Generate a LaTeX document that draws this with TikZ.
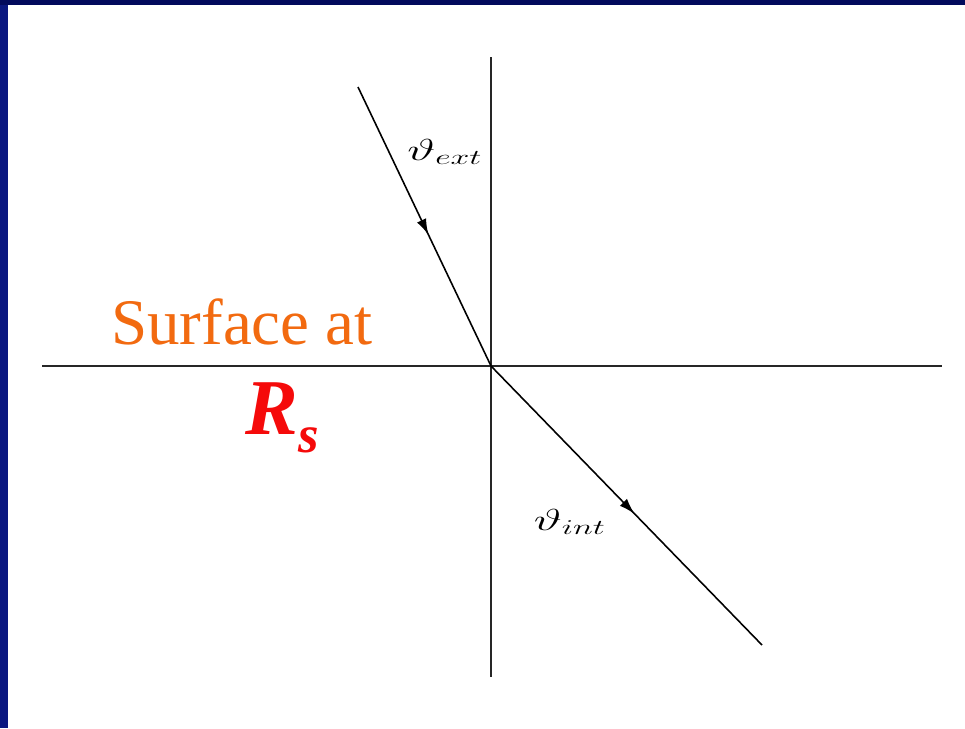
\documentclass[tikz,border=0pt]{standalone}
\usepackage{fontspec}
\setmainfont{Liberation Serif}
\usepackage{xcolor}
\usepackage{tikz}
\usetikzlibrary{arrows.meta,decorations.markings}
\definecolor{framenavy}{HTML}{0A1780}
\definecolor{topnavy}{HTML}{020A5C}
\definecolor{surforange}{HTML}{F26A10}
\definecolor{rsred}{HTML}{F50A0A}

\begin{document}
\begin{tikzpicture}[
  x=0.02cm, y=-0.02cm, >=Stealth,
  axis/.style={line width=0.8pt, black!85},
  ray/.style={line width=0.9pt, postaction={decorate},
    decoration={markings, mark=at position 0.53 with {\arrow{Latex[length=3.2mm,width=2mm]}}}},
  anglbl/.style={inner sep=0pt, font=\fontsize{17}{20}\selectfont, xscale=1.6},
]
% frame
\useasboundingbox (0,0) rectangle (965,728);
\fill[white] (0,0) rectangle (965,728);
\fill[framenavy] (0,0) rectangle (8,728);
\fill[topnavy] (0,0) rectangle (965,5);

% surface and normal
\coordinate (O) at (491,366);
\coordinate (sl) at (42,366);
\coordinate (sr) at (942,366);
\coordinate (nt) at (491,57);
\coordinate (nb) at (491,677);
\draw[axis] (sl) -- (sr);
\draw[axis] (nt) -- (nb);

% rays
\coordinate (src) at (358,87);
\coordinate (dst) at (762,645);
\draw[ray] (src) -- (O);
\draw[ray] (O) -- (dst);

\node[anglbl] (ext) at (445,152) {$\vartheta_{ext}$};
\node[anglbl] (int) at (570,522) {$\vartheta_{int}$};

\node[text=surforange, inner sep=0pt, font=\fontsize{37}{40}\selectfont] (surf) at (242,322) {Surface at};
\node[text=rsred, inner sep=0pt, font=\fontsize{45}{48}\selectfont\bfseries\itshape] (rs) at (282,418) {R\raisebox{-0.22em}{\fontsize{30}{32}\selectfont s}};
\end{tikzpicture}
\end{document}
